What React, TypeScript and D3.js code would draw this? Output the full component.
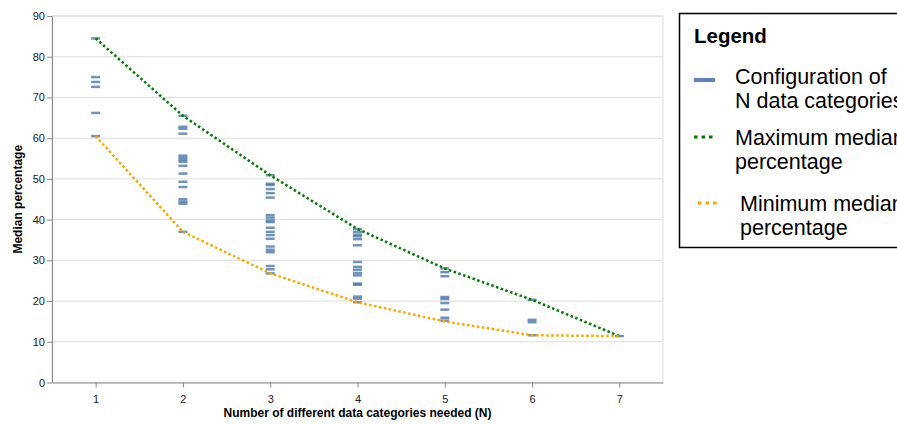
import { useEffect, useRef } from 'react';
import * as d3 from 'd3';

// number of data categories (x axis)
const categories = [1, 2, 3, 4, 5, 6, 7];

// median percentage of each configuration, one list per N
const configN1 = [84.5, 75.0, 73.8, 72.6, 66.2, 60.5];
const configN2 = [65.5, 62.8, 62.3, 61.1, 55.7, 55.2, 54.7, 54.2, 53.2, 51.3, 49.3, 48.0, 45.0, 44.4, 43.9, 37.0];
const configN3 = [50.9, 48.8, 48.5, 47.5, 46.5, 45.4, 41.1, 40.5, 39.8, 39.4, 38.0, 37.0, 36.2, 35.3, 33.4, 32.6, 32.0, 28.6, 27.8, 26.8];
const configN4 = [37.7, 37.0, 36.3, 35.9, 35.2, 33.7, 29.6, 28.4, 27.7, 26.9, 26.3, 24.3, 24.0, 21.1, 20.6, 19.7];
const configN5 = [28.0, 27.1, 26.1, 21.0, 20.5, 19.5, 17.9, 15.9, 15.2];
const configN6 = [20.3, 15.4, 14.8, 11.6];
const configN7 = [11.4];

const maxMedian = [84.5, 65.5, 50.9, 37.7, 28.0, 20.3, 11.4];
const minMedian = [60.5, 37.0, 26.8, 19.7, 15.0, 11.6, 11.4];

const yTicks = [0, 10, 20, 30, 40, 50, 60, 70, 80, 90];

const legendItems = [
  { kind: 'tick', color: '#4c78a8', lines: ['Configuration of', 'N data categories'] },
  { kind: 'dot', color: '#007a00', lines: ['Maximum median', 'percentage'] },
  { kind: 'dot', color: '#ffa500', lines: ['Minimum median', 'percentage'] },
];

const W = 897;
const H = 424;
const FONT = 'Liberation Sans, Arial, Helvetica, sans-serif';

export default function App() {
  const svgRef = useRef<SVGSVGElement | null>(null);

  useEffect(() => {
    const svg = d3.select(svgRef.current);
    svg.selectAll('*').remove();

    const m = { left: 52, right: 663, top: 16, bottom: 382.5 };

    const x = d3.scaleLinear().domain([0.5, 7.5]).range([m.left, m.right]);
    const y = d3.scaleLinear().domain([0, 90]).range([m.bottom, m.top]);

    // view frame + grid
    svg.append('rect')
      .attr('x', m.left).attr('y', m.top)
      .attr('width', m.right - m.left).attr('height', m.bottom - m.top)
      .attr('fill', 'none').attr('stroke', '#ddd');

    svg.append('g')
      .selectAll('line')
      .data(yTicks)
      .join('line')
      .attr('x1', m.left).attr('x2', m.right)
      .attr('y1', d => y(d)).attr('y2', d => y(d))
      .attr('stroke', '#ddd');

    // axes
    const gx = svg.append('g')
      .attr('transform', `translate(0,${m.bottom})`)
      .call(d3.axisBottom(x).tickValues(categories).tickFormat(d3.format('d')).tickSize(5).tickSizeOuter(0));
    gx.select('.domain').attr('stroke', '#888');
    gx.selectAll('.tick line').attr('stroke', '#888');
    gx.selectAll('text').attr('font-family', FONT).attr('font-size', 11).attr('fill', '#222').attr('dy', '1.1em');

    const gy = svg.append('g')
      .attr('transform', `translate(${m.left},0)`)
      .call(d3.axisLeft(y).tickValues(yTicks).tickSize(5).tickSizeOuter(0));
    gy.select('.domain').attr('stroke', '#888');
    gy.selectAll('.tick line').attr('stroke', '#888');
    gy.selectAll('text').attr('font-family', FONT).attr('font-size', 11).attr('fill', '#222').attr('x', -7);

    svg.append('text')
      .attr('x', (m.left + m.right) / 2).attr('y', 417)
      .attr('text-anchor', 'middle')
      .attr('font-family', FONT).attr('font-size', 12).attr('font-weight', 'bold')
      .text('Number of different data categories needed (N)');

    svg.append('text')
      .attr('transform', `translate(22,${(m.top + m.bottom) / 2}) rotate(-90)`)
      .attr('text-anchor', 'middle')
      .attr('font-family', FONT).attr('font-size', 12).attr('font-weight', 'bold')
      .text('Median percentage');

    // tick marks per configuration
    const configs = [configN1, configN2, configN3, configN4, configN5, configN6, configN7];
    const rows = configs.flatMap((vals, i) => vals.map(v => ({ n: categories[i], v })));
    svg.append('g')
      .selectAll('rect')
      .data(rows)
      .join('rect')
      .attr('x', d => x(d.n) - 4.5).attr('width', 9)
      .attr('y', d => y(d.v) - 1.25).attr('height', 2.5)
      .attr('fill', '#4c78a8').attr('opacity', 0.8);

    // max / min lines
    const line = d3.line<number>()
      .x((_, i) => x(categories[i]))
      .y(d => y(d));

    svg.append('path')
      .attr('d', line(maxMedian))
      .attr('fill', 'none').attr('stroke', '#007a00')
      .attr('stroke-width', 2.5).attr('stroke-dasharray', '2.5,2.5');

    svg.append('path')
      .attr('d', line(minMedian))
      .attr('fill', 'none').attr('stroke', '#ffa500')
      .attr('stroke-width', 2.5).attr('stroke-dasharray', '2.5,2.5');

    // legend
    const lg = svg.append('g');
    lg.append('rect')
      .attr('x', 679.5).attr('y', 13.5).attr('width', 240).attr('height', 234)
      .attr('fill', 'white').attr('stroke', '#000').attr('stroke-width', 1.5);
    lg.append('text')
      .attr('x', 694).attr('y', 43)
      .attr('font-family', FONT).attr('font-size', 20.5).attr('font-weight', 'bold')
      .text('Legend');

    const rowY = [76, 137, 203];
    legendItems.forEach((it, i) => {
      const cy = rowY[i];
      const tx = i === 2 ? 740 : 735;
      if (it.kind === 'tick') {
        lg.append('rect').attr('x', 694).attr('y', cy + 2).attr('width', 21).attr('height', 4)
          .attr('fill', it.color).attr('opacity', 0.9);
      } else {
        const x0 = i === 2 ? 698 : 694;
        lg.append('line').attr('x1', x0).attr('x2', x0 + 22).attr('y1', cy).attr('y2', cy)
          .attr('stroke', it.color).attr('stroke-width', 3).attr('stroke-dasharray', '3.5,4');
      }
      it.lines.forEach((t, j) => {
        lg.append('text')
          .attr('x', tx).attr('y', cy + 7.5 + j * 24.5)
          .attr('font-family', FONT).attr('font-size', 21.5)
          .text(t);
      });
    });
  }, []);

  return (
    <svg
      ref={svgRef}
      width={W}
      height={H}
      style={{ position: 'fixed', left: 0, top: 0, background: 'white' }}
    />
  );
}
